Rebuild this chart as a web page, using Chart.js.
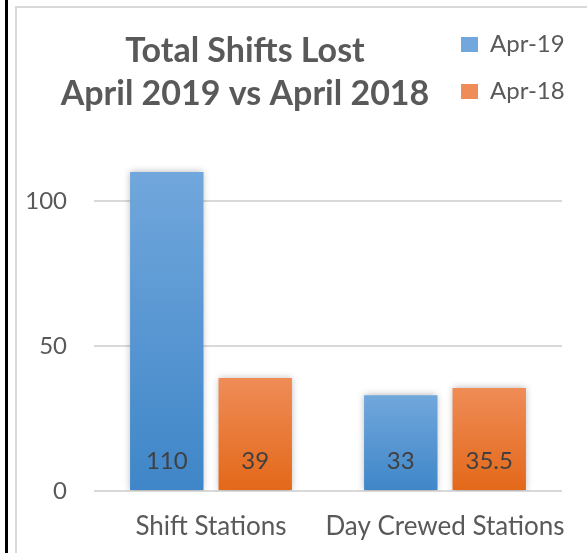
<!DOCTYPE html>
<html>
<head>
<meta charset="utf-8">
<script src="https://cdn.jsdelivr.net/npm/chart.js@4.4.1/dist/chart.umd.min.js"></script>
<style>
  html, body { margin: 0; padding: 0; background: #fff; }
  #wrap { position: relative; width: 587px; height: 553px; overflow: hidden; }
  #blackline { position: absolute; left: 5px; top: 0; width: 3px; height: 553px; background: #000; }
  #frame { position: absolute; left: 15px; top: 6px; width: 620px; height: 620px; border-left: 2px solid #d9d9d9; border-top: 2px solid #d9d9d9; }
  canvas { position: absolute; left: 0; top: 0; }
</style>
</head>
<body>
<div id="wrap">
  <div id="blackline"></div>
  <div id="frame"></div>
  <canvas id="myChart" width="587" height="553"></canvas>
</div>
<script>
const categories = ["Shift Stations", "Day Crewed Stations"]
const seriesNames = ["Apr-19", "Apr-18"]
const apr19 = [110, 33]
const apr18 = [39, 35.5]
const titleLines = ["Total Shifts Lost", "April 2019 vs April 2018"]
const yTicks = [0, 50, 100]

// gradient per bar, lighter at the top
function barFill(top, bottom) {
    return (c) => {
        if (c.type !== "data" || !c.chart.scales.y) return bottom
        const y = c.chart.scales.y
        const y1 = y.getPixelForValue(c.raw)
        const y2 = y.getPixelForValue(0)
        if (!isFinite(y1) || !isFinite(y2) || y1 === y2) return bottom
        const g = c.chart.ctx.createLinearGradient(0, y1, 0, y2)
        g.addColorStop(0, top)
        g.addColorStop(1, bottom)
        return g
    }
}

// put title and legend side by side like the excel chart
const placeBoxes = {
    id: "placeBoxes",
    afterLayout(chart) {
        const t = chart.titleBlock
        t.left = 20
        t.right = 470
        const lg = chart.legend
        lg.left = 438
        lg.top = 9.5
        lg.right = 587
        lg.bottom = 140
    }
}

const barShadow = {
    id: "barShadow",
    beforeDatasetsDraw(chart) {
        const ctx = chart.ctx
        ctx.save()
        ctx.shadowColor = "rgba(0,0,0,0.3)"
        ctx.shadowBlur = 7
    },
    afterDatasetsDraw(chart) {
        chart.ctx.restore()
    }
}

const barLabels = {
    id: "barLabels",
    afterDatasetsDraw(chart) {
        const ctx = chart.ctx
        const y0 = chart.scales.y.getPixelForValue(0)
        ctx.save()
        ctx.font = "24px Lato"
        ctx.fillStyle = "#404040"
        ctx.textAlign = "center"
        ctx.textBaseline = "middle"
        chart.data.datasets.forEach((ds, i) => {
            chart.getDatasetMeta(i).data.forEach((bar, j) => {
                ctx.fillText(String(ds.data[j]), bar.x, y0 - 29.5)
            })
        })
        ctx.restore()
    }
}

const datasets = [{
    label: seriesNames[0],
    data: apr19,
    backgroundColor: barFill("#71a7dc", "#3f86c8"),
    categoryPercentage: 0.756,
    barPercentage: 0.83
}, {
    label: seriesNames[1],
    data: apr18,
    backgroundColor: barFill("#ef8c57", "#e36819"),
    categoryPercentage: 0.756,
    barPercentage: 0.83
}]

const config = {
    type: "bar",
    data: {labels: categories, datasets},
    plugins: [placeBoxes, barShadow, barLabels],
    options: {
        responsive: false,
        animation: false,
        layout: {padding: {left: 20, right: 25, top: 0, bottom: 0}},
        plugins: {
            title: {
                display: true,
                text: titleLines,
                color: "#595959",
                font: {family: "Lato", size: 34, weight: "bold", lineHeight: 1.265},
                padding: {top: 30, bottom: 27}
            },
            legend: {
                position: "chartArea",
                align: "start",
                labels: {
                    color: "#595959",
                    font: {family: "Lato", size: 24},
                    boxWidth: 17,
                    boxHeight: 15,
                    padding: 23
                }
            },
            tooltip: {enabled: false}
        },
        scales: {
            x: {
                grid: {display: false},
                border: {display: false},
                ticks: {
                    color: "#595959",
                    font: {family: "Lato", size: 26},
                    padding: 12,
                    maxRotation: 0,
                    minRotation: 0,
                    autoSkip: false
                },
                afterFit: (scale) => { scale.height = 62 }
            },
            y: {
                min: 0,
                max: 120,
                afterBuildTicks: (scale) => { scale.ticks = yTicks.map((v) => ({value: v})) },
                grid: {color: "#d9d9d9", lineWidth: 2, drawTicks: false},
                border: {display: false},
                ticks: {color: "#595959", font: {family: "Lato", size: 24}, padding: 27},
                afterFit: (scale) => { scale.width = 74 }
            }
        }
    }
}

const myChart = new Chart(document.getElementById("myChart"), config)
</script>
</body>
</html>
